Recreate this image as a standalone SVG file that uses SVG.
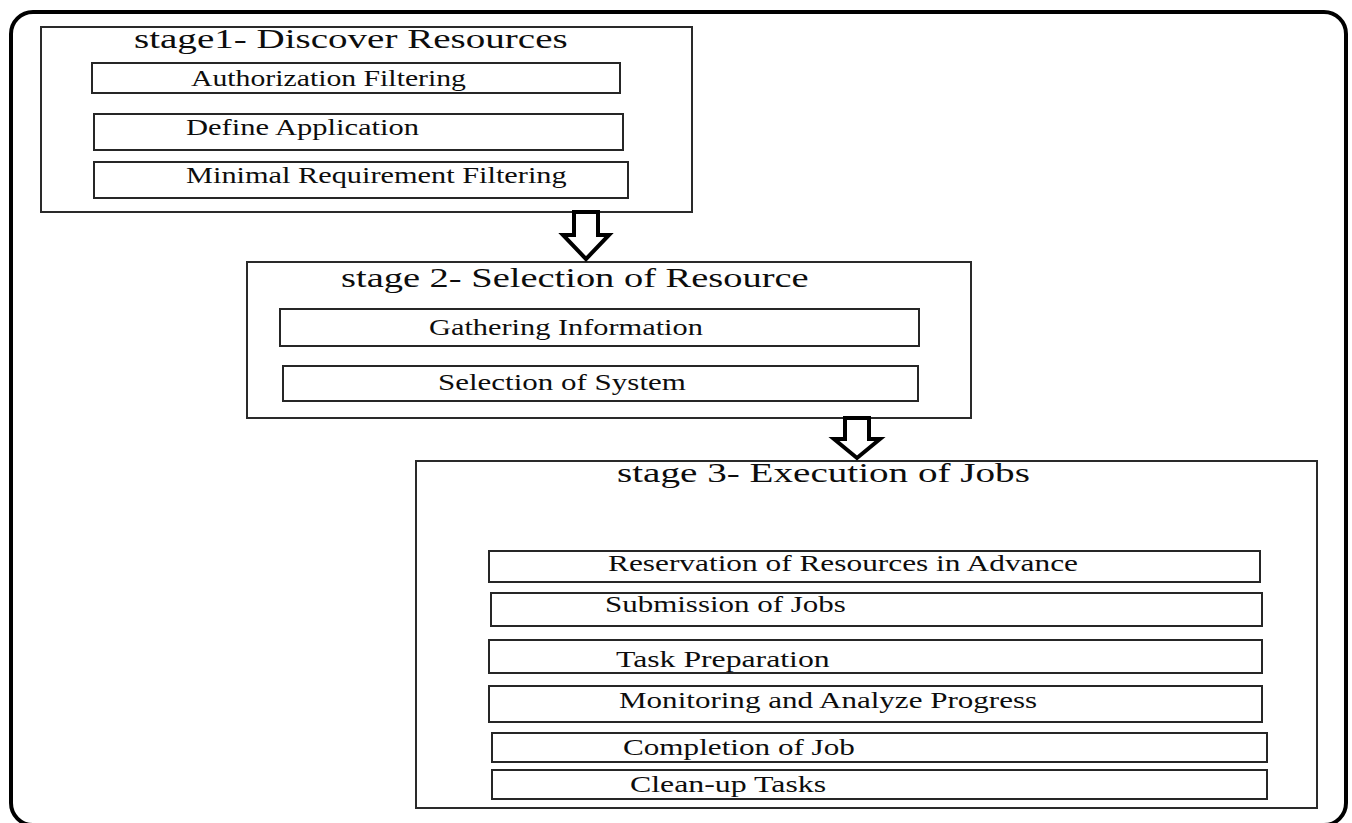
<svg xmlns="http://www.w3.org/2000/svg" width="1352" height="823" viewBox="0 0 1352 823">
<style>
.frame{fill:none;stroke:#000;stroke-width:4}
.stage{fill:#fff;stroke:#2a2a2a;stroke-width:2}
.item{fill:#fff;stroke:#262626;stroke-width:2}
.title{font-family:"Liberation Serif","Times New Roman",serif;font-size:28px;fill:#0d0d0d}
.label{font-family:"Liberation Serif","Times New Roman",serif;font-size:23px;fill:#0d0d0d}
.arrow{fill:#fff;stroke:#000;stroke-width:4;stroke-linejoin:miter}
</style>
<rect width="1352" height="823" fill="#fff"/>
<rect id="frame" class="frame" x="11" y="12" width="1335" height="813" rx="22"/>

<g id="stage1">
  <rect class="stage" x="41" y="27" width="651" height="185"/>
  <text class="title" transform="translate(134,48) scale(1.395,1)">stage1- Discover Resources</text>
  <g id="s1-authorization">
    <rect class="item" x="92" y="63" width="528" height="30"/>
    <text class="label" transform="translate(191,86) scale(1.293,1)">Authorization Filtering</text>
  </g>
  <g id="s1-define">
    <rect class="item" x="94" y="114" width="529" height="36"/>
    <text class="label" transform="translate(186,135) scale(1.328,1)">Define Application</text>
  </g>
  <g id="s1-minimal">
    <rect class="item" x="94" y="162" width="534" height="36"/>
    <text class="label" transform="translate(186,183) scale(1.319,1)">Minimal Requirement Filtering</text>
  </g>
</g>

<g id="stage2">
  <rect class="stage" x="247" y="262" width="724" height="156"/>
  <text class="title" transform="translate(341,287) scale(1.374,1)">stage 2- Selection of Resource</text>
  <g id="s2-gathering">
    <rect class="item" x="280" y="309" width="639" height="37"/>
    <text class="label" transform="translate(429,335) scale(1.32,1)">Gathering Information</text>
  </g>
  <g id="s2-selection">
    <rect class="item" x="283" y="366" width="635" height="35"/>
    <text class="label" transform="translate(438,390) scale(1.348,1)">Selection of System</text>
  </g>
</g>

<g id="stage3">
  <rect class="stage" x="416" y="461" width="901" height="347"/>
  <text class="title" transform="translate(617,482) scale(1.398,1)">stage 3- Execution of Jobs</text>
  <g id="s3-reservation">
    <rect class="item" x="489" y="551" width="771" height="31"/>
    <text class="label" transform="translate(608,571) scale(1.363,1)">Reservation of Resources in Advance</text>
  </g>
  <g id="s3-submission">
    <rect class="item" x="491" y="593" width="771" height="33"/>
    <text class="label" transform="translate(605,612) scale(1.347,1)">Submission of Jobs</text>
  </g>
  <g id="s3-task">
    <rect class="item" x="489" y="640" width="773" height="33"/>
    <text class="label" transform="translate(616,667) scale(1.38,1)">Task Preparation</text>
  </g>
  <g id="s3-monitoring">
    <rect class="item" x="489" y="686" width="773" height="36"/>
    <text class="label" transform="translate(619,708) scale(1.35,1)">Monitoring and Analyze Progress</text>
  </g>
  <g id="s3-completion">
    <rect class="item" x="492" y="733" width="775" height="29"/>
    <text class="label" transform="translate(623,755) scale(1.355,1)">Completion of Job</text>
  </g>
  <g id="s3-cleanup">
    <rect class="item" x="492" y="770" width="775" height="29"/>
    <text class="label" transform="translate(630,792) scale(1.385,1)">Clean-up Tasks</text>
  </g>
</g>

<g id="connectors">
  <polygon class="arrow" points="574,212 598,212 598,235 609,235 586,259 563,235 574,235"/>
  <polygon class="arrow" points="845,418 869,418 869,439 880,439 857,458 834,439 845,439"/>
</g>
</svg>
